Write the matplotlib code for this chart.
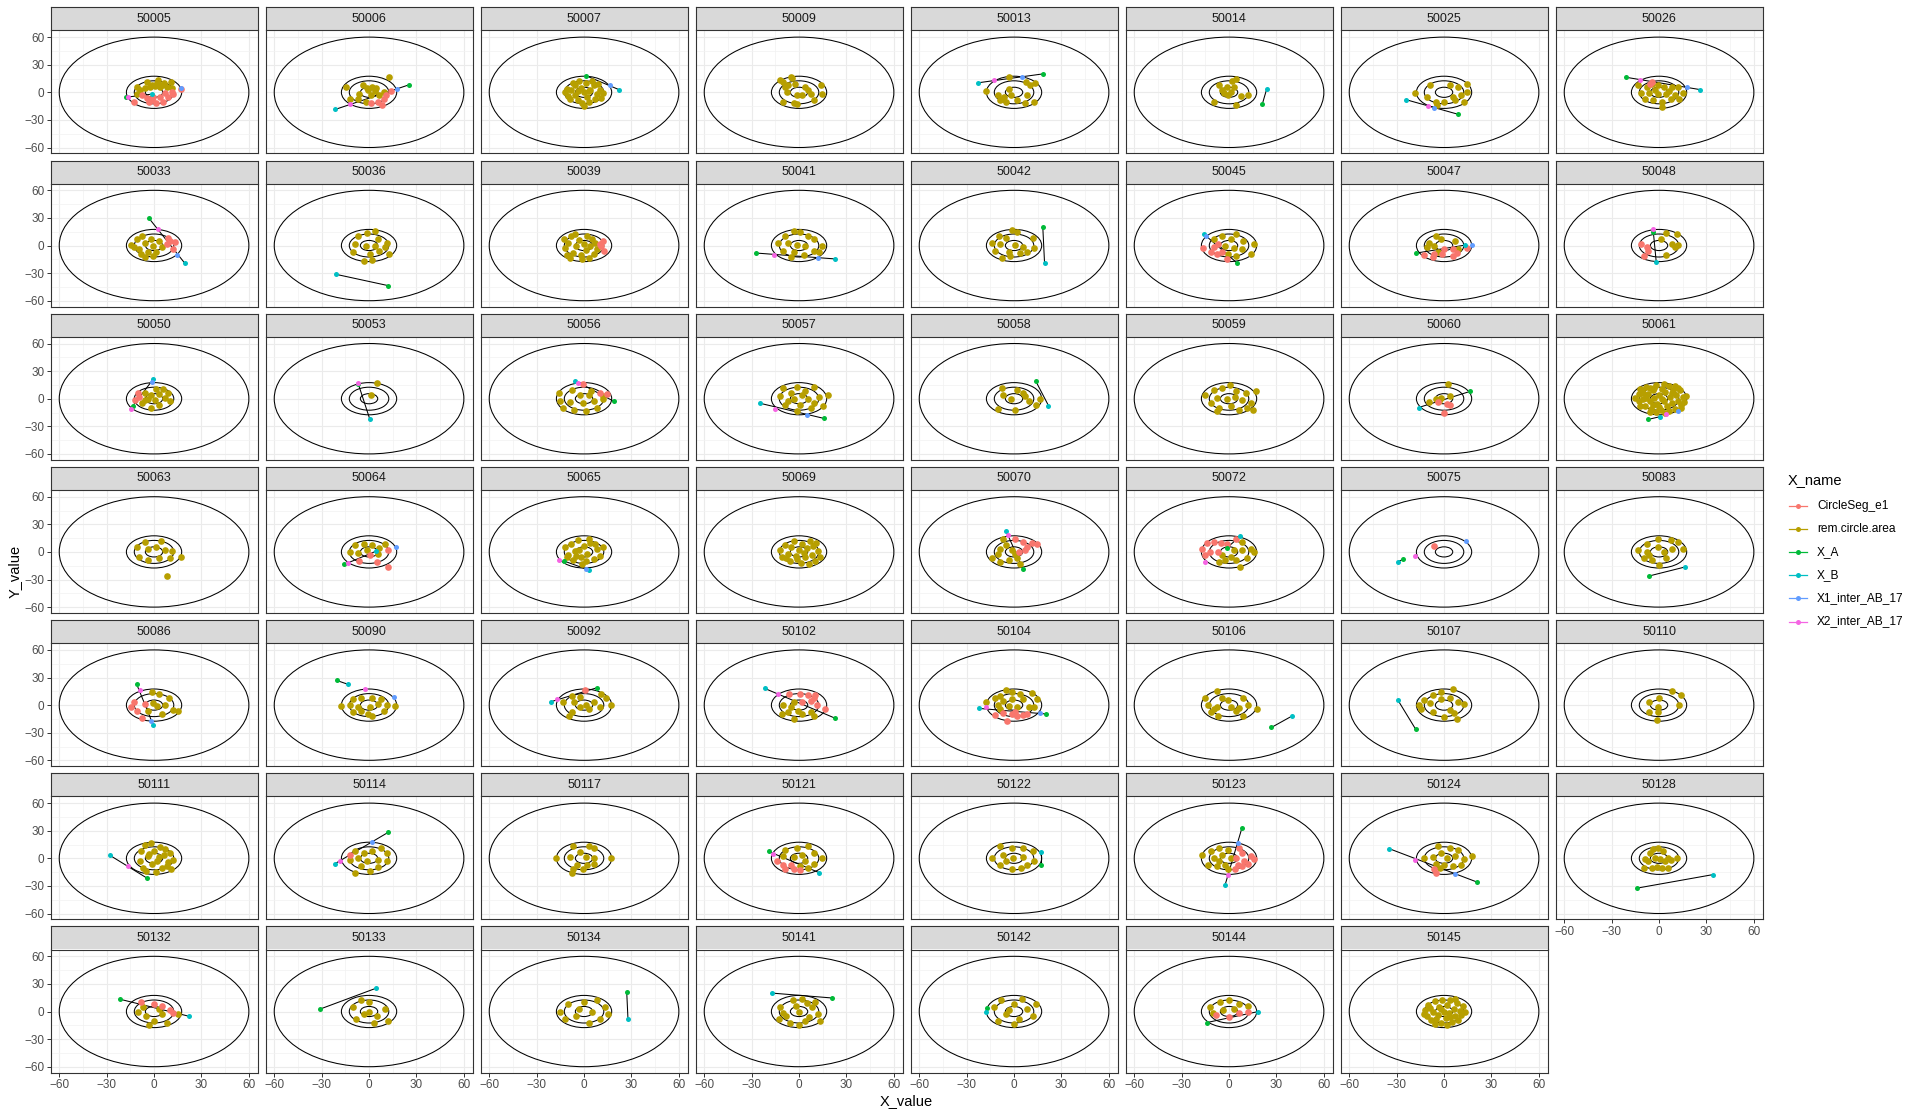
import matplotlib
matplotlib.use("Agg")
import matplotlib.pyplot as plt
from matplotlib.patches import Circle
from matplotlib.lines import Line2D

plt.rcParams['font.family'] = ['Liberation Sans', 'DejaVu Sans']

# --- dados ---
panel_ids = [50005, 50006, 50007, 50009, 50013, 50014, 50025, 50026,
             50033, 50036, 50039, 50041, 50042, 50045, 50047, 50048,
             50050, 50053, 50056, 50057, 50058, 50059, 50060, 50061,
             50063, 50064, 50065, 50069, 50070, 50072, 50075, 50083,
             50086, 50090, 50092, 50102, 50104, 50106, 50107, 50110,
             50111, 50114, 50117, 50121, 50122, 50123, 50124, 50128,
             50132, 50133, 50134, 50141, 50142, 50144, 50145]

circle_radii = [60, 17.5, 12.5, 5.5]

legend_names = ['CircleSeg_e1', 'rem.circle.area', 'X_A', 'X_B',
                'X1_inter_AB_17', 'X2_inter_AB_17']
legend_colors = ['#F8766D', '#B79F00', '#00BA38', '#00BFC4', '#619CFF', '#F564E3']

pt_a = {
    50005: (-18, -5.4), 50006: (25.4, 8.2), 50007: (1.4, 17.9), 50013: (18.2, 20),
    50014: (21.1, -12.5), 50025: (8.9, -23.9), 50026: (-21.1, 16.4),
    50033: (-3.2, 29.6), 50036: (12.1, -43.6), 50041: (-27.1, -8.2), 50042: (18.2, 20),
    50045: (5, -18.9), 50047: (-17.5, -8.2), 50048: (-3.6, 14.6),
    50050: (-13.6, -8.2), 50053: (-6.8, 16.1), 50056: (18.9, -2.9), 50057: (15.7, -21.4),
    50058: (13.6, 19.6), 50060: (16.4, 7.9), 50061: (-6.8, -22.5),
    50064: (-15.7, -13.6), 50065: (-12.5, -10), 50070: (5.7, -18.6), 50072: (-1.4, 4.3),
    50075: (-26.1, -8.2), 50083: (-6.1, -26.1),
    50086: (-11.1, 23.2), 50090: (-20.4, 26.8), 50092: (8.2, 18.9), 50102: (22.9, -14.3),
    50104: (20, -9.6), 50106: (26.8, -24.3), 50107: (-17.9, -26.4),
    50111: (-4.6, -21.4), 50114: (12.1, 28.2), 50121: (-19.3, 7.5), 50122: (17.1, -6.8),
    50123: (8.2, 33.2), 50124: (20.7, -25.7), 50128: (-14.2, -32.5),
    50132: (-21.7, 13.4), 50133: (-30.9, 2.7), 50134: (27, 21.4), 50141: (20.9, 14.7),
    50142: (-17, 4), 50144: (-14, -12),
}

pt_b = {
    50005: (-1.5, -2), 50006: (-21.4, -18.6), 50007: (22.1, 2.9), 50013: (-22.5, 10.4),
    50014: (23.9, 3.9), 50025: (-24.3, -7.9), 50026: (26.1, 2.9),
    50033: (19.3, -18.9), 50036: (-20.7, -31.4), 50041: (22.9, -14.6), 50042: (19.3, -18.9),
    50045: (-15.7, 12.1), 50047: (13.2, 0.4), 50048: (-1.8, -17.5),
    50050: (-0.4, 21.4), 50053: (0.4, -21.8), 50056: (-5.7, 19.6), 50057: (-24.6, -5),
    50058: (21.8, -7.5), 50060: (-16.1, -9.6), 50061: (0.4, -19.6),
    50064: (4.3, 0.7), 50065: (2.9, -19.6), 50070: (-5, 22.5), 50072: (7.1, 17.1),
    50075: (-29.3, -10.7), 50083: (16.4, -16.4),
    50086: (-0.4, -22.1), 50090: (-13.2, 22.5), 50092: (-21.1, 3.6), 50102: (-21.8, 18.2),
    50104: (-22.1, -3.6), 50106: (39.6, -12.1), 50107: (-29.3, 5.7),
    50111: (-27.9, 3.2), 50114: (-21.8, -6.1), 50121: (12.9, -15.7), 50122: (17.1, 6.4),
    50123: (-2.5, -28.9), 50124: (-34.6, 10.4), 50128: (34.2, -17.7),
    50132: (22.4, -5.3), 50133: (4.6, 25.4), 50134: (27.8, -8), 50141: (-17, 20),
    50142: (-18, -1), 50144: (18.6, 0),
}

inter1 = {
    50005: (17, 4.4), 50006: (17.5, 3.9), 50007: (16.4, 7.5), 50013: (5, 16.8),
    50025: (-6.1, -17.5), 50026: (17.9, 5.7), 50033: (14.6, -10.4), 50041: (11.8, -13.6),
    50045: (-14.6, 10.4), 50047: (17.5, 0.4), 50050: (-1.1, 18.6), 50057: (5, -17.9),
    50061: (11.8, -13.6), 50064: (17.1, 5), 50065: (1.1, -18.6), 50075: (13.6, 11.4),
    50086: (-2.1, -17.5), 50090: (15.7, 9.3), 50104: (16.4, -8.6), 50114: (2.1, 18.2),
    50123: (5.4, 16.4), 50124: (7.1, -16.8),
}

inter2 = {
    50005: (-16.6, -5.2), 50006: (-11.8, -13.2), 50013: (-12.9, 12.9), 50025: (-10.4, -14.6),
    50026: (-12.1, 13.9), 50033: (2.5, 18.2), 50041: (-15.7, -10.4), 50048: (-3.6, 18.2),
    50050: (-14.3, -11.1), 50053: (-7, 17), 50056: (-3.6, 17.5), 50057: (-15, -10.7),
    50061: (4.6, -17.1), 50064: (-13.5, -12), 50065: (-16.1, -8.9), 50070: (-3.9, 17.9),
    50072: (-15, -11.4), 50075: (-18.2, -4.6), 50086: (-8.9, 16.4), 50090: (-2.5, 17.9),
    50092: (-16.8, 6.4), 50102: (-13.2, 11.8), 50104: (-17.5, -2.5), 50111: (-16.4, -8.6),
    50114: (-18.2, -3.2), 50121: (-16.4, 5), 50123: (-0.4, -18.2), 50124: (-18.6, -1.4),
}

seg_e1 = {
    50005: [(-12.4, -10.5), (-7.8, -2.9), (-4.6, -6.5), (-1.5, -8.4), (1.3, -11.3), (5.9, -10.2),
            (9, -4.7), (12.2, -1.8), (17, 3.3), (3.8, -4.7), (6.9, -1.1), (11.2, 0.7),
            (-0.4, -4.7), (-2.9, -10.2)],
    50006: [(13.6, 1.1), (9.3, -6.8), (8.2, -13.9), (5.7, -10.4), (1.4, -11.1), (11, -3.2)],
    50026: [(-4.3, 11.1), (-5.5, 9)],
    50033: [(8.6, 8.6), (10.4, 5), (13.2, 4.3), (12.1, -3.9), (7.9, 1.4)],
    50039: [(11.8, 5), (10, 1.4), (12.9, -5.7), (10.7, -0.4)],
    50045: [(-16.4, -3.2), (-11.4, -7.5), (-7.9, -9.3), (-9.6, -2.1), (-6.8, 1.4), (-1.4, -14.6),
            (-4.3, -6.8)],
    50047: [(-12.5, -10.4), (-7.1, -12.9), (-1.1, -9.3), (5.4, -11.1), (5.4, -3.9), (0, -3.9),
            (14.3, -3.2), (-6.1, -9.3), (8.2, -8.2)],
    50048: [(-11.4, 1.4), (-7.9, -1.1), (-7.1, -5.7), (-9.6, -11.1)],
    50050: [(-10, 6.1), (-11.8, -1.1), (-9.3, 1.4)],
    50056: [(-0.7, 15.7), (10, 6.1), (14.3, 5)],
    50060: [(-3.6, -3.6), (3.6, -7.1), (0, -15.4), (1.8, -5.7)],
    50064: [(12.1, 2.5), (-6.1, -10), (5, -10.7), (11.8, -16.4), (0.4, -2.9)],
    50070: [(0.4, 14.3), (5.7, 10.7), (11.1, 9.6), (14.6, 8.9), (8.2, 5.4), (6.8, 1.8), (3.2, 0)],
    50072: [(-13.9, 10), (-9.6, 10.7), (-5, 10), (-1.4, 8.2), (4.6, 14.3), (-16.8, 3.6),
            (-12.1, 0), (-15, -2.9), (-7.1, 0)],
    50075: [(-6.1, 6.1)],
    50086: [(-12.9, 2.9), (-14.6, -2.5), (-11.1, -6.8), (-7.5, -14.3), (-5.7, 1.1)],
    50092: [(0.4, 16.1)],
    50102: [(-6.1, 12.5), (0.4, 11.8), (5.7, 11.1), (10.4, 11.1), (7.5, 4.6), (11.1, 0.4),
            (9.3, 8.2), (16.4, -4.3), (2.1, 2.9)],
    50104: [(-12.1, -10.7), (-6.8, -8.9), (-1.4, -9.6), (2.1, -11.4), (5.7, -10.7), (-4.3, -16.8),
            (0.4, -7.9), (8.2, -9.6)],
    50114: [(-12.1, 3.9)],
    50121: [(-13.9, -3.2), (-10.4, -6.8), (-8.6, -11.1), (-3.2, -12.1), (-5, -6.8), (0.4, -13.2)],
    50123: [(6.4, 11.1), (8.2, 5.7), (13.6, 2.1), (16.1, -0.4), (4.6, 0.4), (9.6, -2.5),
            (5.4, -6.8), (8.2, -8.6), (11.8, -6.1), (3.9, -11.1)],
    50124: [(-5.4, -16.4), (-6.1, -11.8)],
    50132: [(-8, 10), (0, 8), (5, 6), (10, 2), (12, -2)],
    50144: [(-8, -4), (0, -6), (6, -2), (12, 0)],
}

rem_area = {
    50005: [(-4.6, 11.6), (2.7, 13.5), (6.3, 10.5), (10.7, 11.6), (-10.9, 5.5), (-8.8, 2.5),
            (-5.7, 4.4), (-2.5, 5.5), (0.6, 6.9), (3.8, 5.5), (8, 5.5), (11.2, 4.4), (-10.5, -1.8),
            (1.7, 9.8), (4.8, 8), (-1.5, 8)],
    50006: [(12.5, 16.4), (-14.6, 5.7), (-3.9, 7.5), (2.1, 5.7), (3.9, 1.1), (-0.7, 2.1),
            (-6.4, -1.4), (-12.1, -7.5), (-6.8, -7.5), (-2.1, -10.4), (1.4, -3.2), (6.4, -3.2),
            (9.3, 0.4), (-1.4, 4.6), (4.3, 4.6)],
    50007: [(-12, 0), (-10, -4), (-8, 3), (-6, 8), (-4, -8), (-2, 5), (0, 0), (2, -5), (4, 3),
            (6, 8), (8, -2), (10, 3), (12, -1), (-6, -3), (-1, -12), (3, -10), (7, -7), (-9, -7),
            (1, 10), (-3, 12), (5, 12), (9, 9), (-11, 4), (11, -6), (0, -15), (-4, 1), (3, 1),
            (-7, 10)],
    50009: [(-10.4, 11.1), (-5, 16.4), (-12.1, 12.9), (-6.8, 7.5), (-4.3, 15.4), (-2.5, 9.3),
            (-8.6, 5.7), (3.9, 5.7), (5.7, 2.1), (2.1, -2.5), (-1.4, -3.2), (7.5, -1.4),
            (13.9, 7.5), (14.6, -1.4), (9.3, -8.6), (-3.2, -11.1), (-1.4, -13.2), (-10.4, -10.4),
            (-7.5, 0.4)],
    50013: [(-3.2, 16.4), (7.5, 11.1), (13.2, 10.4), (10.4, 8.2), (-17.5, 1.1), (-3.2, 3.9),
            (-10.4, -3.2), (-7.5, -6.8), (-5, -10.4), (2.1, -8.6), (8.2, -2.5), (12.9, -10.4),
            (6.8, -11.1), (-2.1, -3.2), (-8.6, -8.6), (-6.1, -5)],
    50014: [(4.6, 14.6), (1.8, 11.8), (-6.1, 8.2), (-1.4, 5.7), (2.9, 5.7), (1.1, 0.4),
            (-3.2, -0.4), (-9.6, -10.4), (-0.7, -3.2), (7.5, -3.9), (4.6, -13.9), (11.8, -2.5),
            (-4.3, 2.1)],
    50025: [(14.3, 9.3), (-8.9, 8.2), (3.6, 8.2), (8.9, 5.7), (-18.2, -0.4), (-10.7, -5),
            (-5.4, -10.4), (0, -10.4), (5.4, -5), (10.7, -3.2), (14.3, 0.4), (12.5, -10.4),
            (7.1, -8.6), (-4.6, -13.9)],
    50026: [(-13.2, 7.5), (-7.9, 5.7), (-4.3, 9.3), (-0.7, 7.5), (2.9, 5.7), (8.2, 5.7),
            (11.8, 5.7), (15.4, -0.4), (10, -3.2), (4.6, -1.4), (-0.7, -1.4), (-6.1, -0.4),
            (-11.4, -0.4), (-8.6, -6.8), (-3.6, -8.6), (2.1, -10.4), (7.5, -7.5), (12.9, -6.8),
            (1.8, -15.7), (-2.5, 2.1), (6.4, 1.1)],
    50033: [(-14.6, 0.4), (-11.1, 6.8), (-7.5, 10.4), (-5.7, 3.2), (-2.1, 6.8), (-0.4, -0.4),
            (-9.3, -3.9), (-3.9, -7.5), (1.4, -7.5), (-5.7, -12.9), (-12.9, -2.1), (5, -2.1),
            (3.2, 5), (-8.2, -9.3), (-0.4, -11.1)],
    50036: [(3.6, 15.7), (-1.4, 13.9), (-6.8, 10.4), (5.7, 6.8), (11.1, 3.2), (-8.6, 1.4),
            (-2.1, -0.4), (3.9, -0.4), (10, -2.1), (-10.4, -7.5), (0.4, -9.3), (-3.2, -16.4),
            (2.1, -15.7), (12.9, -9.3), (6.4, -5.7)],
    50039: [(-13, 7), (-12, -3), (-10, 3), (-8, 10), (-7, -8), (-5, 0), (-3, 6), (-2, -10),
            (0, 2), (1, -5), (2, 10), (4, -1), (5, 7), (6, -9), (7, 3), (-11, -10), (3, -14),
            (-6, 12), (8, -4), (-1, -15), (-9, -14)],
    50041: [(-3.2, 15.7), (0.4, 14.6), (-8.6, 10.4), (5.7, 10.4), (9.3, 6.8), (-13.2, 2.5),
            (-6.8, 3.2), (-1.4, 0.4), (3.9, -0.4), (14.6, -0.4), (-10.4, -5.7), (-3.2, -7.5),
            (9.3, -5.7), (12.9, -7.5), (3.2, -10.4), (-5, -12.9)],
    50042: [(-1.4, 16.8), (2.1, 14.6), (-9.6, 10.4), (-5, 8.6), (11.8, 8.6), (-13.9, 3.2),
            (-8.6, 1.4), (0.4, 0.4), (5.7, -1.1), (12.9, -3.2), (-12.1, -5.7), (-3.2, -6.8),
            (3.9, -8.2), (-7.5, -13.9), (-2.5, -11.8), (8.2, -7.5)],
    50045: [(-4.3, 10.4), (4.6, 12.1), (1.1, 6.8), (-9.6, 6.8), (8.9, 5), (16.1, 1.4),
            (-2.5, -0.4), (3.2, -2.5), (8.2, -4.3), (13.6, -9.3), (-0.7, -9.3), (4.6, -11.1)],
    50047: [(-5.4, 10.4), (-1.8, 6.8), (-9.6, 3.2), (-10.7, -2.1), (7.1, 5), (8.9, -3.9),
            (-6.1, -0.4), (-3.6, -7.5)],
    50048: [(4.6, 13.2), (11.1, 12.1), (8.2, 1.4), (11.8, 0.4), (10, -2.1), (4.6, -10.4),
            (1.1, 6.8)],
    50050: [(1.4, 10.7), (5.7, 10.7), (-5.7, 6.1), (-2.1, 4.3), (3.2, 5), (8.6, 6.1), (-3.9, 0),
            (0.7, -1.1), (6.8, 0.7), (-7.5, -4.6), (-2.1, -10), (3.2, -6.4), (10.4, -2.9),
            (-5.7, -1.1)],
    50053: [(5, 17.5), (1.4, 4.3)],
    50056: [(-16.1, 6.1), (-7.9, 9.6), (4.6, 7.9), (-2.5, 4.3), (2.9, 3.6), (-15, -2.9),
            (-8.6, -3.6), (-0.7, -4.6), (6.4, -2.9), (11.8, 0), (-13.2, -10), (-6.1, -11.8),
            (1.1, -12.9), (8.2, -10), (11.8, 2.5)],
    50057: [(-10.4, 11.4), (-1.4, 13.2), (9.3, 13.2), (3.9, 7.9), (-5, 6.1), (-12.1, 2.5),
            (-3.2, 0), (5.7, 0), (12.9, 1.4), (18.2, 4.3), (-8.6, -6.4), (0.4, -6.4), (9.3, -4.6),
            (15, -8.2), (-1.4, -13.6), (-6.8, -2.1), (2.1, 4.3), (7.5, -10)],
    50058: [(-7.5, 11.4), (2.1, 9.6), (-6.8, 4.3), (-2.1, 0), (6.8, 2.5), (9.3, -2.1), (16.4, 0),
            (-10.4, -10.7), (0.4, -11.8), (13.6, -6.4), (5.7, 6.1)],
    50059: [(-15, 3.6), (-9.6, 9.6), (-4.3, 11.4), (0.4, 15), (4.6, 7.9), (10.7, 6.1),
            (16.8, 7.9), (-7.9, 0.7), (-1.4, 0), (3.9, 1.4), (8.2, -1.1), (13.6, -4.6),
            (-11.4, -4.6), (-6.1, -10), (1.1, -8.2), (6.4, -11.8), (11.1, -10), (15.4, -11.8),
            (-7.9, -13.6)],
    50060: [(2.5, 15.7), (-5.4, 0), (-9.6, -3.6), (-1.8, 0.7), (3.6, 2.5), (-2.9, -2.1)],
    50061: [(-13, 5), (-13, -3), (-11, 10), (-10, 0), (-9, -8), (-8, 13), (-7, 5), (-6, -3),
            (-5, -11), (-4, 9), (-3, 1), (-2, 15), (-1, -6), (0, 4), (1, -12), (2, 11), (3, -2),
            (4, 7), (5, -8), (6, 14), (7, 2), (8, -5), (9, 10), (10, -11), (11, 4), (12, -2),
            (13, 9), (14, -7), (15, 2), (-12, -8), (-2, -14), (6, -13), (-6, 12), (10, 14),
            (-10, 6), (3, 16), (16, -4), (0, -9), (-4, -7), (8, 6), (2, 0), (-8, 1),
            (-15, 1), (17, 3), (12, 12), (-12, 11), (4, -15), (-6, -14), (14, -10), (-3, 12)],
    50063: [(-5.7, 10.7), (4.3, 11.4), (-11.1, 5.4), (-3.9, 3.6), (1.4, 5.4), (6.8, 1.8),
            (11.1, 0.7), (-9.3, -5.4), (-3.9, -8.9), (3.2, -6.4), (10.4, -7.1), (16.8, -5.4),
            (7.9, -26.1)],
    50064: [(-8.6, 7.1), (-3.2, 8.9), (2.1, 7.1), (10, 8.2), (-12.1, 0), (-6.8, -0.7),
            (-1.4, 1.8), (5.7, -1.8), (6.4, 4.3)],
    50065: [(-12, 5), (-10, -3), (-8, 9), (-6, 1), (-4, 13), (-2, -6), (0, 6), (2, -2), (4, 10),
            (6, -8), (8, 3), (10, -4), (12, 5), (-7, -9), (-1, -13), (3, 14), (-11, -6), (7, 9),
            (-3, 2), (1, -10), (-5, -4)],
    50069: [(-12, 2), (-11, -5), (-9, 8), (-7, -2), (-6, -10), (-5, 5), (-3, 12), (-2, -4),
            (0, 2), (1, -12), (2, 9), (4, -6), (5, 4), (7, 12), (8, -3), (9, 6), (10, -10),
            (12, 1), (13, -6), (-1, -8), (3, -1), (6, -13), (-8, -7), (11, 10)],
    50070: [(-6.8, 14.3), (-5, 7.1), (-8.6, 3.6), (-1.4, 1.8), (-13.9, -7.1), (-8.6, -10.7),
            (-3.2, -8.9), (2.1, -7.1), (0.4, -1.8), (3.9, -13.6), (-10.4, -1.8)],
    50072: [(8.2, 10.7), (2.9, 1.8), (8.2, 1.8), (13.6, 2.9), (16.1, 0), (-4.3, -3.6),
            (1.1, -5.4), (4.6, -8.9), (11.1, -6.4), (-2.5, -8.9), (6.8, -16.1), (-6.1, -10.7)],
    50083: [(-7.9, 8.9), (-0.7, 14.3), (7.5, 13.2), (12.1, 10.7), (-13.2, 1.8), (-7.9, 0),
            (-0.7, 5.4), (2.9, 0), (8.2, 2.9), (15.4, 2.9), (-9.6, -7.1), (-4.3, -8.9),
            (4.6, -7.1), (0, -14.3), (-6.1, -3.6)],
    50086: [(-1.4, 14.6), (3.2, 11.8), (9.3, 8.2), (-0.4, 1.8), (2.1, -0.7), (6.8, 0.4),
            (12.1, -5.4), (15, -6.1), (-3.9, -6.8), (5, -9.6)],
    50090: [(-10.4, 6.4), (-5, 8.2), (2.1, 8.2), (7.5, 6.4), (-17.5, -0.7), (-12.1, 0.4),
            (-6.8, -2.5), (0.4, -1.8), (5.7, 1.1), (11.1, 0.4), (16.4, -0.7), (-10.4, -7.9),
            (-5, -6.8), (2.1, -11.4), (9.3, -6.1), (-0.4, -9.6)],
    50092: [(-7.9, 10), (-2.5, 8.9), (10.7, 12.5), (13.6, 8.2), (-13.2, 2.9), (-6.1, 2.9),
            (1.1, 0.4), (6.4, 2.9), (17.1, 0.4), (-2.5, -2.5), (-7.9, -7.9), (2.9, -4.3),
            (10, -2.5), (-9.6, -11.4)],
    50102: [(-10.4, 0.4), (-3.2, 2.9), (-5, -2.5), (-11.1, -9.6), (-3.2, -15), (2.1, -9.6),
            (7.5, -7.9), (-0.4, -6.1), (-6.8, -7.9), (9.3, -11.4)],
    50104: [(-5, 16.1), (-1.4, 14.6), (3.9, 11.8), (11.1, 13.6), (14.6, 6.4), (-12.1, 8.2),
            (-8.6, 10), (-6.8, 4.6), (-1.4, 6.4), (5.7, 6.4), (-17.5, 2.9), (-10.4, 0.4),
            (-3.2, -0.7), (2.1, -1.8), (9.3, -1.8), (12.9, -2.5), (-8.6, -4.3)],
    50106: [(-15, 8.2), (-7.9, 15.4), (-4.3, 7.5), (-0.7, 5.4), (8.9, 8.2), (-13.2, 0.4),
            (-7.9, -1.8), (1.1, -2.5), (6.4, -3.2), (11.8, 0.4), (17.5, -4.3), (-11.4, -7.9),
            (-6.8, -11.4), (8.9, -12.1), (4.6, -6.8), (-9.6, -4.3)],
    50107: [(-12.5, 5.4), (-7.1, 11.1), (-1.8, 14.6), (5.4, 17.1), (-16.1, 0.4), (-8.9, 1.8),
            (-1.8, 6.4), (3.6, 7.5), (8.9, 2.9), (12.5, 1.1), (-14.3, -4.3), (-7.1, -7.9),
            (0, -13.2), (6.4, -8.9), (8.2, -15), (3.6, -5.4)],
    50110: [(0, 7.5), (8.2, 15.4), (13.6, 11.1), (-6.1, 2.9), (-0.7, -1.8), (-6.1, -7.9),
            (-0.7, -7.9), (12.5, 0.4), (-1.4, -15.7)],
    50111: [(-8, 8), (-6, 14), (-4, 2), (-2, 17), (0, 8), (2, -3), (4, 12), (6, 4), (8, -8),
            (10, 6), (12, -2), (-9, -3), (-7, -10), (-5, -14), (-1, -6), (1, -15), (3, 1),
            (5, -11), (7, 10), (11, -12), (-3, 5), (9, -4)],
    50114: [(-8.6, 7.5), (-3.2, 5.7), (2.1, 7.5), (7.5, 11.1), (11.1, 5.7), (-12.1, -1.4),
            (-6.8, 0.4), (-1.4, -3.2), (5.7, -1.4), (11.1, -3.2), (-5, -8.6), (0.4, -13.9),
            (-8.6, -15.7), (5.7, -9.6)],
    50117: [(-7.1, 13.6), (2.9, 13.6), (6.4, 11.1), (-2.5, 7.1), (-8.6, 1.1), (-17.9, 0.4),
            (1.1, 1.1), (6.4, 0.4), (17.1, 0.4), (-4.3, -6.8), (2.1, -7.5), (6.4, -6.1),
            (-7.9, -15.7), (-0.7, -11.1), (-7.1, -12.1)],
    50121: [(-8.6, 9.3), (-1.4, 11.1), (5.7, 13.6), (9.3, 5.7), (14.6, 0.4), (-10.4, 2.1),
            (-3.2, 1.1), (2.1, 3.9), (3.9, -3.2), (9.3, -6.1), (0.4, -8.6), (5.7, -10.4)],
    50122: [(-8.6, 12.9), (-1.4, 11.1), (5.7, 11.1), (11.8, 8.2), (-13.9, 0.4), (-6.8, 3.2),
            (-0.4, 0.4), (5.7, 1.1), (12.9, -2.5), (-8.6, -6.8), (-1.4, -11.1), (4.6, -10.4),
            (8.2, -6.8), (-5, -2.5)],
    50123: [(-16.8, 3.9), (-11.4, 7.5), (-6.1, 11.1), (-0.7, 9.3), (-9.6, 0.4), (-4.3, 3.2),
            (1.1, 0.4), (-13.2, -6.8), (-7.9, -8.6), (-2.5, -6.8), (-0.7, -12.1), (-6.1, -3.2)],
    50124: [(-3.6, 13.6), (3.6, 11.1), (8.9, 9.3), (-12.5, 0.4), (-7.1, 1.1), (-1.8, 5.7),
            (1.8, 0.4), (7.1, 2.1), (12.5, -0.4), (17.9, 2.1), (-5.4, -6.1), (0, -6.8),
            (5.4, -8.6), (10.7, -6.8), (-2.5, -10.4)],
    50128: [(-8.9, -1.1), (-5.7, 6.1), (-3.6, 9.7), (-0.4, 10.8), (2.8, 7.9), (5.5, 0.7),
            (11.3, 0.7), (-2.5, 0.7), (0.6, -1.1), (3.8, -2.9), (-9.6, -10.1), (-4.7, -10.8),
            (-1.5, -9.4), (1.7, -10.1), (5.5, -10.8), (-6.8, -2.9), (7.6, -2.2)],
    50132: [(-10, 0), (-5, -5), (0, -10), (5, -3), (8, -12), (-7, 5), (3, 3), (15, -3), (-3, -15)],
    50133: [(-10, 5), (-5, 12), (0, 0), (5, -5), (10, 3), (-8, -8), (3, -13), (12, -10), (0, 10),
            (-3, -3)],
    50134: [(-15, 0), (-10, 8), (-5, -5), (0, 10), (5, 0), (10, -8), (13, 5), (-12, -8), (3, -12),
            (8, 12), (-3, 3), (15, -3)],
    50141: [(-12, 5), (-8, -5), (-4, 12), (0, 0), (4, -10), (8, 5), (12, -3), (-6, -12), (2, 14),
            (10, 10), (-10, -2), (6, -6), (0, -15), (-2, 6), (-13, -8), (13, -10), (5, 9)],
    50142: [(-13, 5), (-8, 12), (-5, -3), (0, 8), (3, -8), (8, 3), (12, -5), (-10, -10), (5, 14),
            (14, 8), (0, -14), (-3, 2)],
    50144: [(-12, 5), (-6, 10), (0, 12), (6, 8), (12, 6), (-4, 2), (3, 3), (-10, -2)],
    50145: [(-12, 2), (-11, -5), (-10, 7), (-8, -9), (-7, 0), (-6, 11), (-4, -4), (-3, 5),
            (-2, -12), (-1, 12), (0, 0), (1, -7), (2, 7), (3, -2), (4, 12), (5, -11), (6, 3),
            (7, -5), (8, 9), (9, -9), (10, 1), (11, -4), (12, 6), (-5, -8), (2, -15), (-9, 4),
            (-13, -3), (13, -1), (-6, -14), (7, 14), (-2, 3), (4, -6)],
}

# --- layout (pixels da figura 1920x1117) ---
W, H = 1920, 1117
ncol = 8
panel_left, panel_w, col_step = 50.7, 207, 215
plot_top, plot_h, row_step, strip_h = 30.3, 123, 153.2, 23
xlim = (-65.4, 65.6)
ylim = (-66.3, 67.4)
grey20 = '#333333'


def box(left, top, w, h):
    return [left / W, 1 - (top + h) / H, w / W, h / H]


fig = plt.figure(figsize=(19.2, 11.17), dpi=100)
n = len(panel_ids)

for i, pid in enumerate(panel_ids):
    r, c = divmod(i, ncol)
    left = panel_left + c * col_step
    top = plot_top + r * row_step

    # strip (a borda de baixo fica por conta do painel)
    sax = fig.add_axes(box(left, top - strip_h, panel_w, strip_h))
    sax.set_facecolor('#D9D9D9')
    sax.set_xticks([])
    sax.set_yticks([])
    sax.spines['bottom'].set_visible(False)
    for s in ['top', 'left', 'right']:
        sax.spines[s].set_color(grey20)
        sax.spines[s].set_linewidth(0.8)
    sax.text(0.5, 0.5, str(pid), ha='center', va='center', fontsize=9, color='#1A1A1A',
             transform=sax.transAxes)

    ax = fig.add_axes(box(left, top, panel_w, plot_h))
    ax.set_xlim(xlim)
    ax.set_ylim(ylim)
    ax.set_xticks([-60, -30, 0, 30, 60])
    ax.set_yticks([-60, -30, 0, 30, 60])
    ax.set_xticks([-45, -15, 15, 45], minor=True)
    ax.set_yticks([-45, -15, 15, 45], minor=True)
    ax.grid(which='major', color='#EBEBEB', linewidth=0.8)
    ax.grid(which='minor', color='#F2F2F2', linewidth=0.5)
    ax.set_axisbelow(True)
    ax.tick_params(which='minor', length=0)
    ax.tick_params(which='major', length=2.6, width=0.7, color=grey20, labelsize=8.5,
                   labelcolor='#4D4D4D', pad=2)
    for s in ax.spines.values():
        s.set_color(grey20)
        s.set_linewidth(0.8)

    below = i + ncol < n
    if below:
        ax.tick_params(axis='x', length=0, labelbottom=False)
    if c != 0:
        ax.tick_params(axis='y', length=0, labelleft=False)

    for rad in circle_radii:
        ax.add_patch(Circle((0, 0), rad, fill=False, edgecolor='black', linewidth=0.75, zorder=2))

    if pid in pt_a and pid in pt_b:
        ax.plot([pt_a[pid][0], pt_b[pid][0]], [pt_a[pid][1], pt_b[pid][1]],
                color='black', linewidth=0.75, zorder=3)

    if pid in rem_area:
        xs, ys = zip(*rem_area[pid])
        ax.plot(xs, ys, 'o', color=legend_colors[1], ms=4.8, mew=0, zorder=4)
    if pid in seg_e1:
        xs, ys = zip(*seg_e1[pid])
        ax.plot(xs, ys, 'o', color=legend_colors[0], ms=4.8, mew=0, zorder=4)
    for d, col in [(pt_a, legend_colors[2]), (pt_b, legend_colors[3]),
                   (inter1, legend_colors[4]), (inter2, legend_colors[5])]:
        if pid in d:
            ax.plot(d[pid][0], d[pid][1], 'o', color=col, ms=3.6, mew=0, zorder=5)

# titulos dos eixos
fig.text(906 / W, 1 - 1101 / H, 'X_value', ha='center', va='center', fontsize=10.5, color='black')
fig.text(15 / W, 1 - 571 / H, 'Y_value', ha='center', va='center', fontsize=10.5,
         color='black', rotation=90)

# legenda
fig.text(1788 / W, 1 - 480 / H, 'X_name', ha='left', va='center', fontsize=10.5, color='black')
for k, (name, col) in enumerate(zip(legend_names, legend_colors)):
    y = 1 - (506 + k * 23.1) / H
    fig.add_artist(Line2D([1789 / W, 1807 / W], [y, y], color=col, linewidth=0.9,
                          transform=fig.transFigure))
    fig.add_artist(Line2D([1798 / W], [y], color=col, marker='o', ms=3.6, mew=0,
                          transform=fig.transFigure))
    fig.text(1817 / W, y, name, ha='left', va='center', fontsize=8.6, color='black')

fig.savefig('out.png', dpi=100, facecolor='white')
